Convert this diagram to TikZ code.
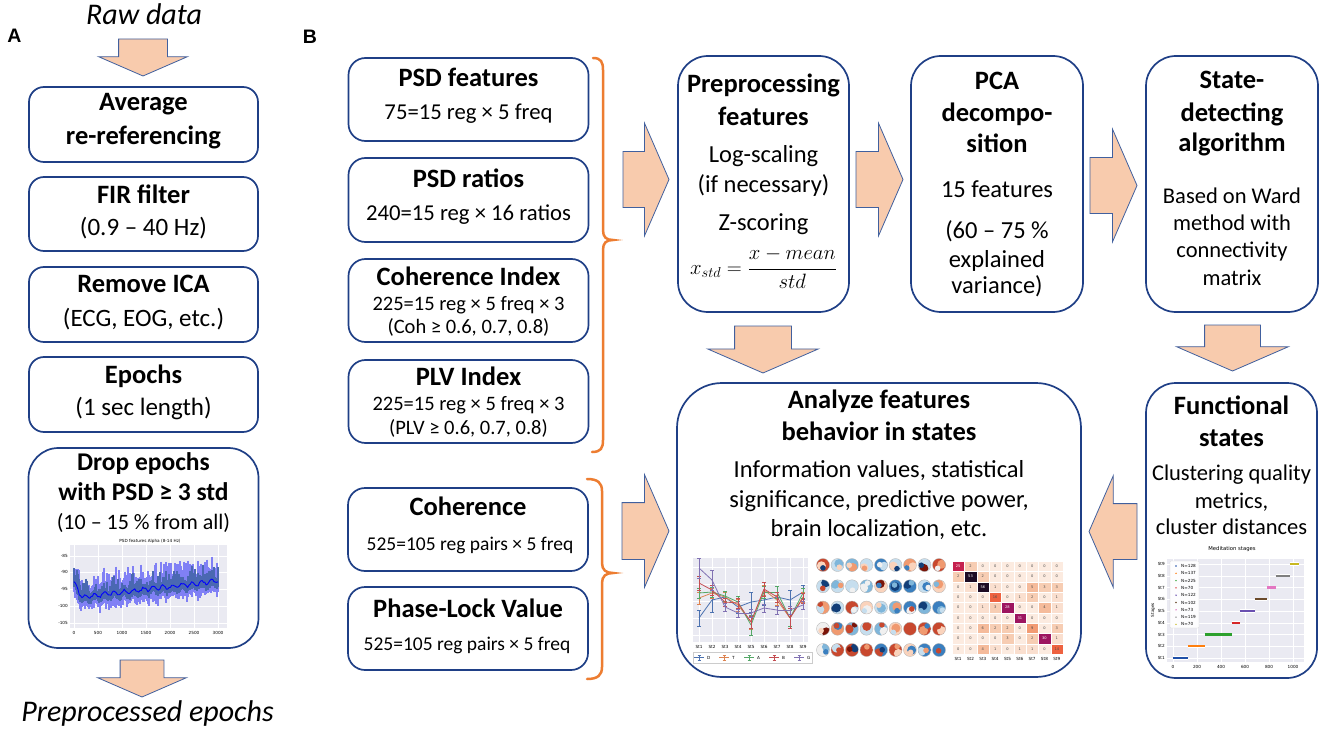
\documentclass[tikz,border=0pt]{standalone}
\usepackage{fontspec}
\setmainfont{Carlito}
\newfontfamily\labelfont{Liberation Sans}
\newfontfamily\plotfont{DejaVu Sans}
\usetikzlibrary{shapes.arrows}
\newcommand\myfs[2]{\fontsize{#1}{#2}\selectfont}
\definecolor{boxblue}{HTML}{1F3F86}
\definecolor{arrowline}{HTML}{41609E}
\definecolor{peach}{HTML}{F8CBAD}
\definecolor{braceor}{HTML}{ED7D31}
\definecolor{plotbg}{HTML}{EAEAF2}
\definecolor{outerband}{RGB}{128,128,245}
\definecolor{innerband}{RGB}{74,104,178}
\definecolor{cD}{HTML}{4C72B0}
\definecolor{cT}{HTML}{DD8452}
\definecolor{cA}{HTML}{55A868}
\definecolor{cB}{HTML}{C44E52}
\definecolor{cG}{HTML}{8172B3}
\definecolor{tp0}{HTML}{7A1408}
\definecolor{tp1}{HTML}{C8482E}
\definecolor{tp2}{HTML}{F09A70}
\definecolor{tp3}{HTML}{FAD3BC}
\definecolor{tp4}{HTML}{F0F0F0}
\definecolor{tp5}{HTML}{C6DEEE}
\definecolor{tp6}{HTML}{7FB6DA}
\definecolor{tp7}{HTML}{3A7FBF}
\definecolor{tp8}{HTML}{123E78}
\definecolor{cm0}{HTML}{FCEBE0}
\definecolor{cm1}{HTML}{FADFCF}
\definecolor{cm2}{HTML}{F7CDB3}
\definecolor{cm3}{HTML}{F5BB9B}
\definecolor{cm4}{HTML}{F29B74}
\definecolor{cm5}{HTML}{EE6240}
\definecolor{cm6}{HTML}{C5214F}
\definecolor{cm7}{HTML}{9D1560}
\definecolor{cm8}{HTML}{1C0B24}
\definecolor{sb1}{HTML}{1F4FA8}
\definecolor{sb2}{HTML}{FF7F0E}
\definecolor{sb3}{HTML}{2CA02C}
\definecolor{sb4}{HTML}{D62728}
\definecolor{sb5}{HTML}{6A50B0}
\definecolor{sb6}{HTML}{6B4A2B}
\definecolor{sb7}{HTML}{E377C2}
\definecolor{sb8}{HTML}{7F7F7F}
\definecolor{sb9}{HTML}{C8B820}
\begin{document}
\begin{tikzpicture}[x=1pt,y=-1pt,
  box/.style={draw=boxblue, line width=1.7pt, fill=white, rounded corners=15pt, inner sep=0pt},
  ttl/.style={anchor=base, inner sep=0pt, font=\myfs{26.5}{30}\bfseries},
  txt/.style={anchor=base, inner sep=0pt, font=\myfs{24.5}{28}},
  itl/.style={anchor=base, inner sep=0pt, font=\myfs{30}{34}\itshape},
  lbl/.style={anchor=base, inner sep=0pt, font=\labelfont\myfs{19.5}{22}\bfseries},
  barrow/.style={shape=single arrow, draw=arrowline, fill=peach, line width=0.8pt,
    inner xsep=0pt, minimum width=0pt, single arrow tip angle=133,
    anchor=tail, outer sep=0pt},
  brace/.style={draw=braceor, line width=2.5pt, line cap=round},
  ptxt/.style={inner sep=0pt, font=\plotfont\myfs{4.2}{5}},
  declare function={psdm(\x)=min(597-0.118*(\x-82),583+1.75*(\x-74))+2*sin(\x*37);}
]
\useasboundingbox (0,0) rectangle (1325,733);
\fill[white] (0,0) rectangle (1325,733);

% ---------------- Panel A ----------------
\node[lbl] (labA) at (14.5,43) {A};
\node[itl] (raw) at (144,25) {Raw data};
\node[barrow, rotate=-90, minimum height=37pt, inner ysep=24pt, single arrow head extend=20pt] (arA1) at (143,39) {};

\node[box, minimum width=229pt, minimum height=75pt] (avg) at (143.5,124.5) {};
\node[ttl] (avg1) at (143.5,111) {Average};
\node[ttl] (avg2) at (143.5,145) {re-referencing};

\node[box, minimum width=229pt, minimum height=74pt] (fir) at (143.5,214) {};
\node[ttl] (fir1) at (143.5,203) {FIR filter};
\node[txt, font=\myfs{25}{28}] (fir2) at (143.5,235) {(0.9 – 40 Hz)};

\node[box, minimum width=229pt, minimum height=75pt] (ica) at (143.5,304.5) {};
\node[ttl] (ica1) at (143.5,292) {Remove ICA};
\node[txt, font=\myfs{25}{28}] (ica2) at (143.5,326) {(ECG, EOG, etc.)};

\node[box, minimum width=229pt, minimum height=75pt] (epo) at (143.5,394.5) {};
\node[ttl] (epo1) at (143.5,383) {Epochs};
\node[txt, font=\myfs{25}{28}] (epo2) at (143.5,415) {(1 sec length)};

\node[box, rounded corners=30pt, minimum width=230pt, minimum height=200pt] (drop) at (143.5,548) {};
\node[ttl, font=\myfs{25.5}{30}\bfseries] (drop1) at (143.5,470) {Drop epochs};
\node[ttl, font=\myfs{25.5}{30}\bfseries] (drop2) at (143.5,500) {with PSD ≥ 3 std};
\node[txt, font=\myfs{22}{26}] (drop3) at (143.5,529) {(10 – 15 \% from all)};

% PSD plot
\fill[plotbg] (70,545) rectangle (227,628);
\foreach \gx in {74,98,122,146,170,194,218} \draw[white, line width=0.5pt] (\gx,545) -- (\gx,628);
\foreach \gy in {556,572,589,606,623} \draw[white, line width=0.5pt] (70,\gy) -- (227,\gy);
\pgfmathsetseed{42}
\foreach \x in {74,...,218} {
  \pgfmathsetmacro\m{psdm(\x)}
  \pgfmathsetmacro\ta{\m-10-16*rnd^2}
  \pgfmathsetmacro\ba{\m+9+7*rnd^2}
  \draw[outerband, line width=1.1pt] (\x,\ta) -- (\x,\ba);
}
\foreach \x in {74,...,218} {
  \pgfmathsetmacro\m{psdm(\x)}
  \pgfmathsetmacro\ta{\m-4-13*rnd^2}
  \pgfmathsetmacro\ba{\m+4+3*rnd}
  \draw[innerband, line width=1.1pt] (\x,\ta) -- (\x,\ba);
}
\draw[blue, line width=0.9pt] plot[domain=74:218, samples=110] (\x,{psdm(\x)+1.0*rand});
\node[ptxt] (psdt) at (150,541) {PSD features Alpha (8-14 Hz)};
\foreach \v/\gy in {-85/556,-90/572,-95/589,-100/606,-105/623}
  \node[ptxt, anchor=east] (psdy\v) at (68,\gy) {\v};
\foreach \v/\gx in {0/74,500/98,1000/122,1500/146,2000/170,2500/194,3000/218}
  \node[ptxt] (psdx\v) at (\gx,633) {\v};

\node[barrow, rotate=-90, minimum height=37pt, inner ysep=21.5pt, single arrow head extend=22.5pt] (arA2) at (142,660) {};
\node[itl] (pre) at (147.5,721) {Preprocessed epochs};

% ---------------- Panel B ----------------
\node[lbl] (labB) at (310,44) {B};

\node[box, rounded corners=17pt, minimum width=240pt, minimum height=83pt] (psd) at (468.5,99.5) {};
\node[ttl] (psd1) at (468.5,87) {PSD features};
\node[txt, font=\myfs{22.7}{26}] (psd2) at (468.5,120) {75=15 reg × 5 freq};

\node[box, rounded corners=17pt, minimum width=240pt, minimum height=84pt] (rat) at (468.5,200) {};
\node[ttl] (rat1) at (468.5,187) {PSD ratios};
\node[txt, font=\myfs{22.7}{26}] (rat2) at (468.5,220) {240=15 reg × 16 ratios};

\node[box, rounded corners=17pt, minimum width=240pt, minimum height=83pt] (coi) at (468.5,300.5) {};
\node[ttl] (coi1) at (468.5,285) {Coherence Index};
\node[txt, font=\myfs{20.5}{24}] (coi2) at (468.5,310) {225=15 reg × 5 freq × 3};
\node[txt, font=\myfs{20.5}{24}] (coi3) at (468.5,333) {(Coh ≥ 0.6, 0.7, 0.8)};

\node[box, rounded corners=17pt, minimum width=240pt, minimum height=83pt] (plvi) at (468.5,401.5) {};
\node[ttl] (plvi1) at (468.5,385) {PLV Index};
\node[txt, font=\myfs{20.5}{24}] (plvi2) at (468.5,410) {225=15 reg × 5 freq × 3};
\node[txt, font=\myfs{20.5}{24}] (plvi3) at (468.5,434) {(PLV ≥ 0.6, 0.7, 0.8)};

\node[box, rounded corners=17pt, minimum width=240pt, minimum height=83pt] (coh) at (468,529.5) {};
\node[ttl] (coh1) at (468,515) {Coherence};
\node[txt, font=\myfs{19.5}{23}] (coh2) at (470,550) {525=105 reg pairs × 5 freq};

\node[box, rounded corners=17pt, minimum width=240pt, minimum height=83pt] (plv) at (468,628.5) {};
\node[ttl] (plv1) at (468,617) {Phase-Lock Value};
\node[txt, font=\myfs{19.5}{23}] (plv2) at (467,650) {525=105 reg pairs × 5 freq};

% braces
\draw[brace] (593,58) .. controls (601,58) and (603,62) .. (603,70) -- (603,230)
  .. controls (603,237) and (606,240) .. (613,240) .. controls (606,240) and (603,243) .. (603,250)
  -- (603,440) .. controls (603,448) and (601,452) .. (592,452);
\draw[brace] (587,479) .. controls (598,479) and (602,483) .. (602,491) -- (602,563)
  .. controls (602,570) and (606,573) .. (613,573) .. controls (606,573) and (602,576) .. (602,583)
  -- (602,667) .. controls (602,675) and (598,679) .. (587,679);

% top row
\node[box, rounded corners=30pt, minimum width=171pt, minimum height=256pt] (prep) at (763.5,184) {};
\node[ttl] (prep1) at (763.5,93) {Preprocessing};
\node[ttl] (prep2) at (763.5,126) {features};
\node[txt] (prep3) at (763.5,163) {Log-scaling};
\node[txt] (prep4) at (763.5,192) {(if necessary)};
\node[txt] (prep5) at (763.5,230) {Z-scoring};
\node[anchor=base, inner sep=0pt, font=\myfs{20}{24}] (prep6) at (763.5,274) {$x_{std}=\displaystyle\frac{x-mean}{std}$};

\node[box, rounded corners=30pt, minimum width=172pt, minimum height=256pt] (pca) at (997,184) {};
\node[ttl] (pca1) at (997,90) {PCA};
\node[ttl] (pca2) at (997,122) {decompo-};
\node[ttl] (pca3) at (997,153) {sition};
\node[txt] (pca4) at (997,197) {15 features};
\node[txt] (pca5) at (997,238) {(60 – 75 \%};
\node[txt] (pca6) at (997,267) {explained};
\node[txt] (pca7) at (997,293) {variance)};

\node[box, rounded corners=30pt, minimum width=172pt, minimum height=256pt] (state) at (1232,184) {};
\node[ttl] (st1) at (1232,89) {State-};
\node[ttl] (st2) at (1232,122) {detecting};
\node[ttl] (st3) at (1232,152) {algorithm};
\node[txt, font=\myfs{22.5}{26}] (st4) at (1232,203) {Based on Ward};
\node[txt, font=\myfs{22.5}{26}] (st5) at (1232,230) {method with};
\node[txt, font=\myfs{22.5}{26}] (st6) at (1232,257) {connectivity};
\node[txt, font=\myfs{22.5}{26}] (st7) at (1232,285) {matrix};

% bottom row
\node[box, rounded corners=45pt, minimum width=404pt, minimum height=294pt] (ana) at (879,530) {};
\node[ttl] (ana1) at (879,408) {Analyze features};
\node[ttl] (ana2) at (879,440) {behavior in states};
\node[txt] (ana3) at (879,477) {Information values, statistical};
\node[txt] (ana4) at (879,507) {significance, predictive power,};
\node[txt] (ana5) at (879,536) {brain localization, etc.};

\node[box, rounded corners=30pt, minimum width=171pt, minimum height=295pt] (func) at (1231.5,530.5) {};
\node[ttl] (fu1) at (1231.5,414) {Functional};
\node[ttl] (fu2) at (1231.5,446) {states};
\node[txt, font=\myfs{22.5}{26}] (fu3) at (1231.5,480) {Clustering quality};
\node[txt, font=\myfs{22.5}{26}] (fu4) at (1231.5,508) {metrics,};
\node[txt, font=\myfs{22.5}{26}] (fu5) at (1231.5,534) {cluster distances};

% block arrows
\node[barrow, minimum height=46pt, inner ysep=27.5pt, single arrow head extend=28.5pt] (arB1) at (623,179.5) {};
\node[barrow, minimum height=47pt, inner ysep=27.5pt, single arrow head extend=28.5pt] (arB2) at (856,179.5) {};
\node[barrow, minimum height=47pt, inner ysep=27.5pt, single arrow head extend=28.5pt] (arB3) at (1090,185.5) {};
\node[barrow, rotate=-90, minimum height=47pt, inner ysep=28pt, single arrow head extend=27pt] (arB4) at (763,326) {};
\node[barrow, rotate=-90, minimum height=46pt, inner ysep=27.5pt, single arrow head extend=28pt] (arB5) at (1232.5,325) {};
\node[barrow, minimum height=47pt, inner ysep=28pt, single arrow head extend=28pt] (arB6) at (622,531) {};
\node[barrow, rotate=180, minimum height=48pt, inner ysep=27.5pt, single arrow head extend=28pt] (arB7) at (1137,531.5) {};

% ---- line plot in Analyze box ----
\fill[plotbg] (693,558) rectangle (808,642);
\foreach \gx in {699,712,725,738,751,764,777,790,803} \draw[white, line width=0.5pt] (\gx,558) -- (\gx,642);
\foreach \gy in {567,584,601,618,635} \draw[white, line width=0.5pt] (693,\gy) -- (808,\gy);
\foreach \c/\pts in {
  cD/{699/618/8,712/600/12,725/597/6,738/607/6,751/602/10,764/600/5,777/597/5,790/600/10,803/592/7},
  cT/{699/598/6,712/593/5,725/597/5,738/605/6,751/622/7,764/590/5,777/600/5,790/618/8,803/597/5},
  cA/{699/593/5,712/592/5,725/596/5,738/602/6,751/625/10,764/592/6,777/592/6,790/618/8,803/593/5},
  cB/{699/583/7,712/590/5,725/602/4,738/603/5,751/622/6,764/589/7,777/597/5,790/618/10,803/598/5},
  cG/{699/568/10,712/580/10,725/607/4,738/613/4,751/613/4,764/608/4,777/610/4,790/610/4,803/605/4}} {
  \foreach \x/\y/\e [count=\k] in \pts {
    \draw[\c, line width=0.5pt] (\x-1.6,\y-\e) -- (\x+1.6,\y-\e) (\x,\y-\e) -- (\x,\y+\e) (\x-1.6,\y+\e) -- (\x+1.6,\y+\e);
    \ifnum\k>1 \draw[\c, line width=0.8pt] (\px,\py) -- (\x,\y); \fi
    \global\let\px\x \global\let\py\y
  }
}
\foreach \i [count=\k from 0] in {1,...,9}
  \node[ptxt] (lpx\i) at ({699+13*\k},647) {St\i};
\draw[fill=white, draw=gray!40, line width=0.3pt] (693,652) rectangle (812,663);
\foreach \c/\l [count=\k from 0] in {cD/D,cT/T,cA/A,cB/B,cG/G} {
  \pgfmathsetmacro\lx{699+25*\k}
  \draw[\c, line width=0.6pt] (\lx-5,657.5) -- (\lx+5,657.5) (\lx,655) -- (\lx,660) (\lx-1.5,655) -- (\lx+1.5,655) (\lx-1.5,660) -- (\lx+1.5,660);
  \node[ptxt, anchor=west] (lg\l) at (\lx+8,657.5) {\l};
}

% ---- topomaps ----
\pgfmathsetseed{7}
\foreach \r in {0,...,4} {
  \foreach \c in {0,...,8} {
    \pgfmathsetmacro\cx{823+14.5*\c}
    \pgfmathsetmacro\cy{565+21.25*\r}
    \pgfmathrandominteger\ca{1}{7}
    \pgfmathrandominteger\cb{0}{8}
    \pgfmathrandominteger\cc{0}{8}
    \pgfmathsetmacro\ox{3.5*rand}
    \pgfmathsetmacro\oy{3.5*rand}
    \pgfmathsetmacro\qx{4*rand}
    \pgfmathsetmacro\qy{4*rand}
    \begin{scope}
      \clip (\cx,\cy) circle[radius=6.5pt];
      \fill[tp\ca] (\cx,\cy) circle[radius=6.5pt];
      \fill[tp\cb] (\cx+\ox,\cy+\oy) circle[radius=4.5pt];
      \fill[tp\cc] (\cx+\qx,\cy+\qy) circle[radius=2.8pt];
    \end{scope}
    \draw[gray!60, line width=0.3pt] (\cx,\cy) circle[radius=6.5pt];
  }
}

% ---- confusion matrix ----
\foreach \row [count=\i from 0] in {
  {25,2,0,0,0,0,0,0,0},{2,53,2,0,0,0,0,0,0},{0,1,56,1,0,0,5,3,3},
  {0,0,0,16,0,1,2,0,1},{0,0,1,3,28,0,0,4,1},{0,0,0,0,0,31,0,0,0},
  {0,0,6,2,2,0,9,0,3},{0,0,0,0,3,0,2,30,1},{0,0,4,1,0,1,1,0,14}} {
  \foreach \v [count=\j from 0] in \row {
    \ifnum\v=0 \def\cmc{cm0}\else\ifnum\v<2 \def\cmc{cm1}\else\ifnum\v<4 \def\cmc{cm2}\else
    \ifnum\v<7 \def\cmc{cm3}\else\ifnum\v<10 \def\cmc{cm4}\else\ifnum\v<20 \def\cmc{cm5}\else
    \ifnum\v<27 \def\cmc{cm6}\else\ifnum\v<40 \def\cmc{cm7}\else \def\cmc{cm8}\fi\fi\fi\fi\fi\fi\fi\fi
    \ifnum\v>20 \def\tcol{white}\else \def\tcol{black!70}\fi
    \fill[\cmc, draw=white, line width=0.2pt] ({952+12.33*\j},{561+10.33*\i}) rectangle +(12.33,10.33);
    \node[ptxt, font=\plotfont\myfs{3.6}{4}, text=\tcol] (cm\i-\j) at ({952+12.33*(\j+0.5)},{561+10.33*(\i+0.5)}) {\v};
  }
}
\foreach \i [count=\k from 0] in {1,...,9}
  \node[ptxt] (cmx\i) at ({952+12.33*(\k+0.5)},659) {St\i};

% ---- stage plot ----
\node[ptxt, font=\plotfont\myfs{5.3}{6}] (medt) at (1232,549) {Meditation stages};
\fill[plotbg] (1167,559) rectangle (1304,662);
\foreach \t in {0,200,...,1000} \draw[white, line width=0.5pt] ({1173+0.12*\t},559) -- ({1173+0.12*\t},662);
\foreach \k in {1,...,9} \draw[white, line width=0.5pt] (1167,{658-11.75*(\k-1)}) -- (1304,{658-11.75*(\k-1)});
\foreach \k/\a/\b in {1/0/128,2/128/265,3/265/490,4/490/560,5/560/682,6/682/784,7/784/857,8/857/976,9/976/1046} {
  \draw[white, line width=3.4pt] ({1173+0.12*\a},{658-11.75*(\k-1)}) -- ({1173+0.12*\b},{658-11.75*(\k-1)});
  \draw[sb\k, line width=2.4pt] ({1173+0.12*\a},{658-11.75*(\k-1)}) -- ({1173+0.12*\b},{658-11.75*(\k-1)});
  \node[ptxt, anchor=east] (sty\k) at (1165,{658-11.75*(\k-1)}) {St\k};
}
\foreach \t in {0,200,400,600,800,1000} \node[ptxt] (stx\t) at ({1173+0.12*\t},667) {\t};
\node[ptxt, rotate=90] (stlab) at (1153,610) {Stages};
\draw[fill=white!92!plotbg, draw=gray!35, line width=0.3pt, rounded corners=1pt] (1170,561) rectangle (1199,628);
\foreach \n [count=\k from 1] in {128,137,225,70,122,102,73,119,70} {
  \fill[sb\k] (1176,{566+7.3*(\k-1)}) circle[radius=0.8pt];
  \node[ptxt, anchor=west] (leg\k) at (1181,{566+7.3*(\k-1)}) {N=\n};
}
\end{tikzpicture}
\end{document}
